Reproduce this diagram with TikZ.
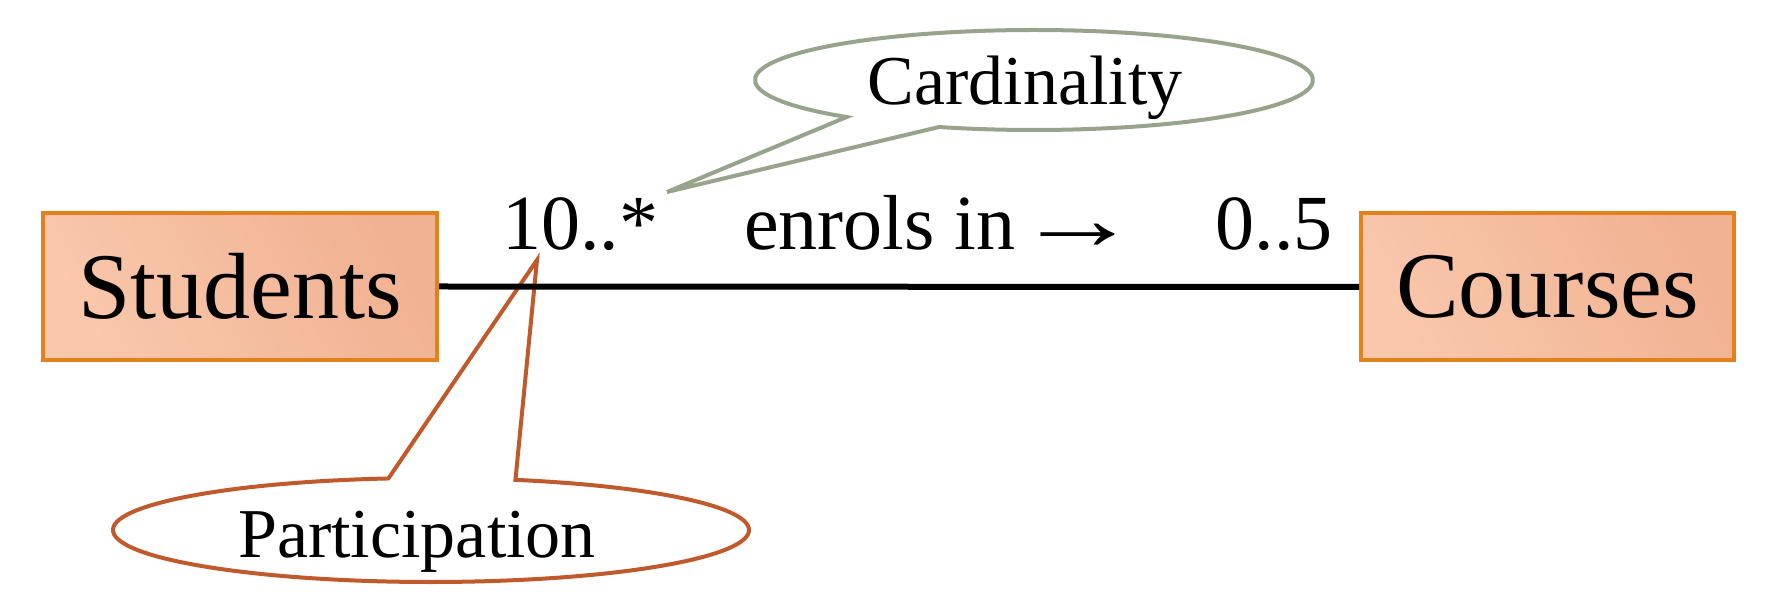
\documentclass[tikz,border=0pt]{standalone}
\usepackage{fontspec}
\setmainfont{Liberation Serif}
\usetikzlibrary{calc}
\definecolor{boxline}{HTML}{E3821C}
\definecolor{boxA}{HTML}{F9C7AB}
\definecolor{boxB}{HTML}{F0B292}
\definecolor{cardc}{HTML}{97A38A}
\definecolor{partc}{HTML}{C05A2C}
\begin{document}
\begin{tikzpicture}[x=0.5pt,y=-0.5pt,
  entity/.style={draw=boxline, line width=2pt, left color=boxA, right color=boxB,
    shading angle=120, minimum height=73.5pt, inner sep=0pt, font=\fontsize{47}{50}\selectfont},
  lab/.style={anchor=base, inner sep=0pt, font=\fontsize{39}{41}\selectfont},
  note/.style={anchor=base, inner sep=0pt, font=\fontsize{35}{38}\selectfont},
  conn/.style={line width=3pt},
  callout/.style={line width=2pt, line join=miter}]
\fill[white] (0,0) rectangle (1773,603);
\useasboundingbox (0,0) rectangle (1773,603);

% entities
\node[entity, minimum width=197pt] (stu) at (240,286.5) {Students};
\node[entity, minimum width=186.5pt] (crs) at (1547.5,287) {Courses};

% callout geometry
\coordinate (cc) at (1034,80);
\coordinate (ctip) at (667,192);
\coordinate (pc) at (431,530);
\coordinate (ptip) at (537,260);

\draw[callout, draw=cardc] (ctip) -- ($(cc)+(132.2:279 and 50)$)
  arc[start angle=132.2, end angle=469.9, x radius=279, y radius=50] -- cycle;
\draw[callout, draw=partc] (ptip) -- ($(pc)+(262.3:318 and 52)$)
  arc[start angle=262.3, end angle=-74.6, x radius=318, y radius=52] -- cycle;

% relationship line
\draw[conn] (stu.east) -- (crs.west);

% labels
\node[lab] (lo) at (580,250) {10..*};
\node[lab] (rel) at (942,250) {enrols in\hspace{0pt}\scalebox{1.6}[1.15]{→}};
\node[lab] (hi) at (1274,250) {0..5};

\node[note] (card) at (1025,105) {Cardinality};
\node[note] (part) at (417,558) {Participation};
\end{tikzpicture}
\end{document}
